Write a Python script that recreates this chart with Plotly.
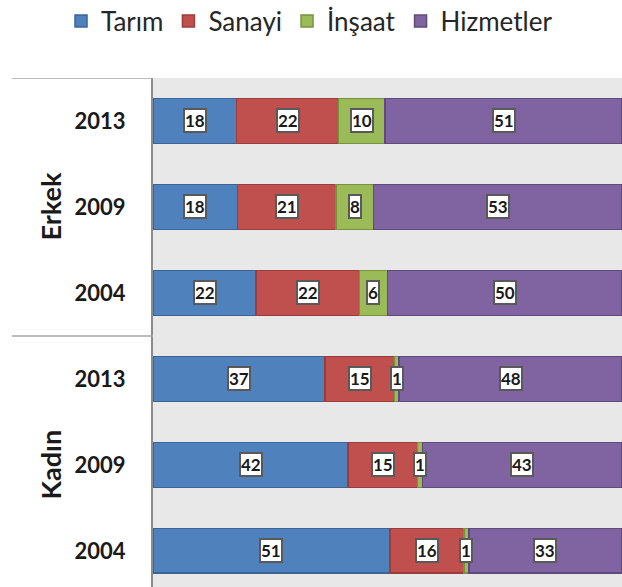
import plotly.graph_objects as go

categories = ["Erkek 2013", "Erkek 2009", "Erkek 2004", "Kadın 2013", "Kadın 2009", "Kadın 2004"]
year_labels = ["2013", "2009", "2004", "2013", "2009", "2004"]
groups = ["Erkek", "Kadın"]

tarim = [18, 18, 22, 37, 42, 51]
sanayi = [22, 21, 22, 15, 15, 16]
insaat = [10, 8, 6, 1, 1, 1]
hizmetler = [51, 53, 50, 48, 43, 33]

series = [
    ("Tarım", tarim, "#4F81BD", "#3B6596"),
    ("Sanayi", sanayi, "#C0504D", "#9B3D3A"),
    ("İnşaat", insaat, "#9BBB59", "#76933C"),
    ("Hizmetler", hizmetler, "#8064A2", "#604A7B"),
]

FONT = "Lato"
fig = go.Figure()
for name, vals, col, lc in series:
    fig.add_trace(go.Bar(
        name=name, y=categories, x=vals, orientation="h",
        marker=dict(color=col, line=dict(color=lc, width=1.5)),
        width=0.52,
    ))

# value labels in boxes
totals = [sum(s[1][i] for s in series) for i in range(len(categories))]
cum = [0] * len(categories)
for name, vals, col, lc in series:
    for i, v in enumerate(vals):
        mid = (cum[i] + v / 2) / totals[i] * 100
        cum[i] += v
        fig.add_annotation(
            x=mid, y=categories[i], xref="x", yref="y", text="<b>%d</b>" % v,
            showarrow=False, font=dict(family=FONT, size=17, color="#1a1a1a"),
            bgcolor="white", bordercolor="#595959", borderwidth=2, borderpad=0,
        )

W, H = 622, 587
L, T = 153, 78
plot_w = W - L
plot_h = H - T
for gi, g in enumerate(groups):
    fig.add_annotation(
        x=(32 - L) / plot_w, xref="paper", y=gi * 3 + 1, yref="y",
        text="<b>%s</b>" % g, textangle=-90, showarrow=False,
        font=dict(family=FONT, size=27, color="#1a1a1a"),
    )

# group divider lines
for yv in [-0.5, 2.5]:
    fig.add_shape(type="line", xref="paper", yref="y",
                  x0=(12 - L) / plot_w, x1=0, y0=yv, y1=yv,
                  line=dict(color="#A6A6A6", width=1.5))

fig.update_layout(
    barmode="stack", barnorm="percent",
    width=W, height=H,
    margin=dict(l=L, r=0, t=T, b=0, autoexpand=False),
    paper_bgcolor="white", plot_bgcolor="#E8E8E8",
    font=dict(family=FONT, color="#262626"),
    legend=dict(orientation="h", xref="paper", yref="paper",
                x=(61 - L) / plot_w, xanchor="left", y=1 + (T - 21) / plot_h, yanchor="middle",
                font=dict(size=26, color="#262626"), traceorder="normal",
                itemwidth=30, tracegroupgap=0),
    xaxis=dict(visible=False, range=[0, 100], showgrid=False),
    yaxis=dict(range=[5.42, -0.5], tickvals=categories, ticktext=["<b>%s</b>" % t for t in year_labels],
               tickfont=dict(family=FONT, size=22, color="#1a1a1a"), showgrid=False,
               showline=True, linecolor="#8C8C8C", linewidth=2, ticks="",
               ticklabelstandoff=21, automargin=False),
)

fig.write_html("out.html", config={"displayModeBar": False},
               post_script="document.body.style.margin='0';document.body.style.overflow='hidden';")
